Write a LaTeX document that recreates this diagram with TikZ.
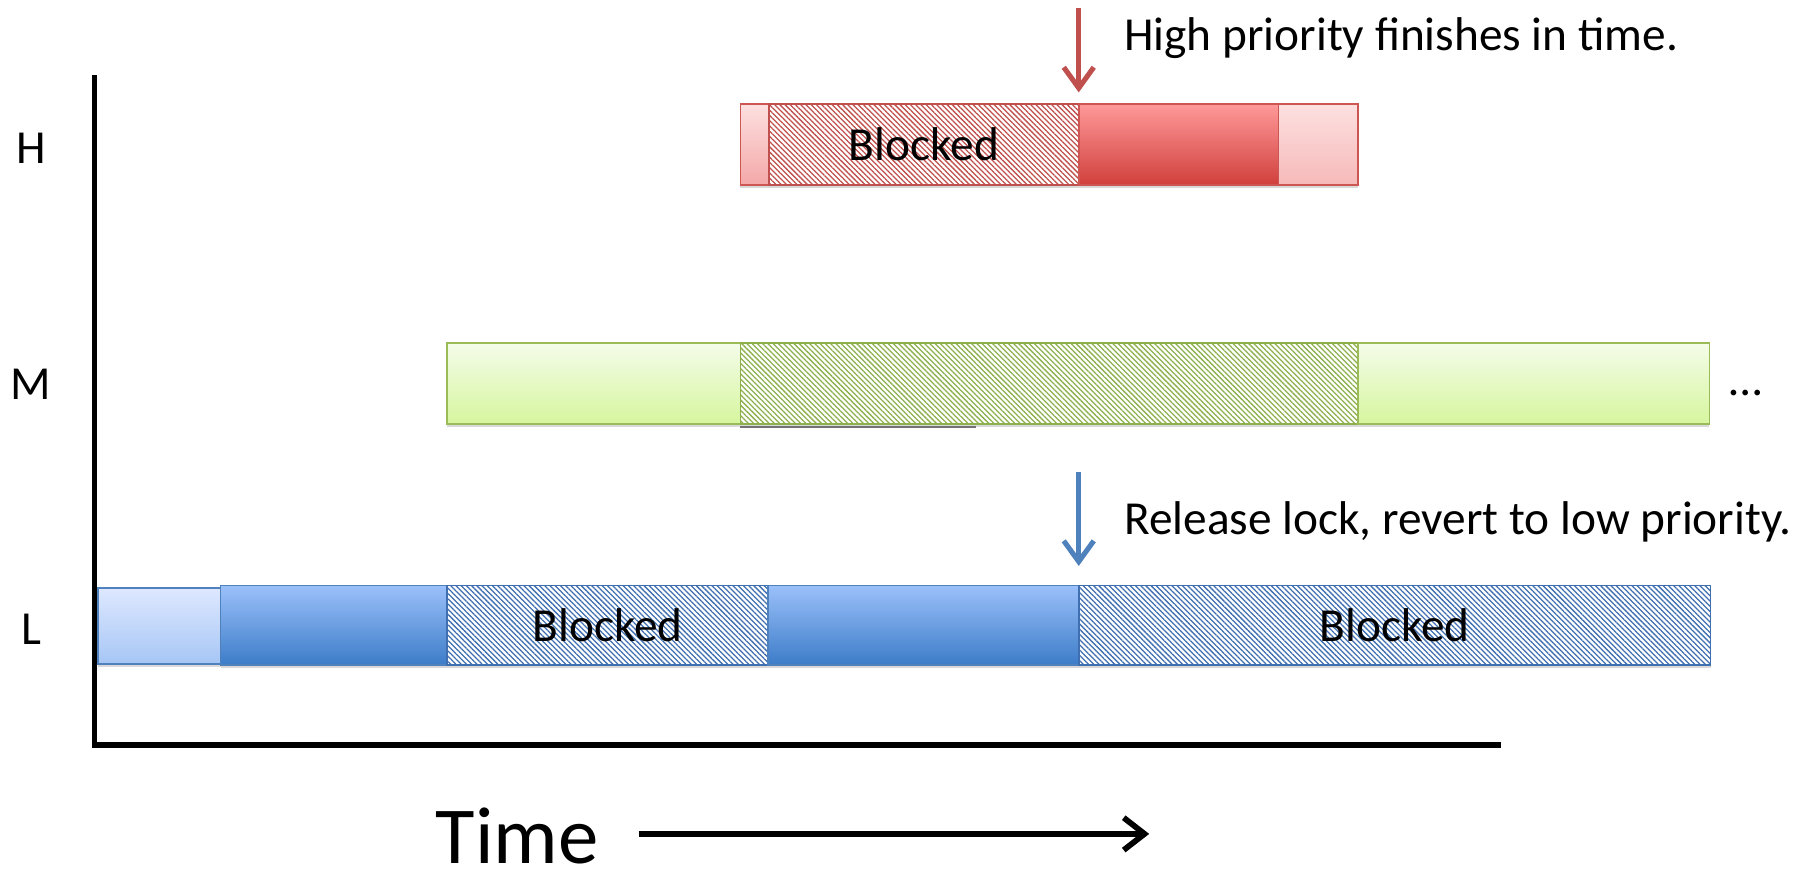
\documentclass[tikz,border=0pt]{standalone}
\usepackage{fontspec}
\setmainfont{Carlito}
\usetikzlibrary{patterns.meta,fit,shadows,arrows.meta}
\definecolor{redB}{RGB}{205,85,82}
\definecolor{redH}{RGB}{192,80,77}
\definecolor{pinkT}{RGB}{253,224,224}
\definecolor{pinkB}{RGB}{244,168,168}
\definecolor{redT}{RGB}{255,153,153}
\definecolor{redD}{RGB}{208,64,60}
\definecolor{greenB}{RGB}{155,187,89}
\definecolor{greenH}{RGB}{141,176,77}
\definecolor{greenT}{RGB}{244,252,233}
\definecolor{greenD}{RGB}{214,246,158}
\definecolor{blueB}{RGB}{79,129,189}
\definecolor{blueH}{RGB}{63,111,176}
\definecolor{lblueT}{RGB}{222,232,255}
\definecolor{lblueB}{RGB}{166,198,245}
\definecolor{blueT}{RGB}{155,192,250}
\definecolor{blueD}{RGB}{60,124,200}
\begin{document}
\begin{tikzpicture}[x=0.5pt,y=-0.5pt,
  seg/.style={inner sep=0pt, outer sep=0pt, line width=0.7pt,
    drop shadow={shadow xshift=0pt,shadow yshift=-1.3pt,opacity=0.3}},
  hatch/.style={seg, draw=#1, fill=white,
    postaction={pattern={Lines[angle=-45,distance=1.6pt,line width=0.55pt]}, pattern color=#1}},
  txt/.style={font=\fontsize{20.5}{24}\selectfont, inner sep=0pt},
  pointer/.style={line width=2.2pt, -{Straight Barb[length=9pt,width=13pt,line width=2.2pt]}},
  axis/.style={line width=2.4pt}
]
\useasboundingbox (0,0) rectangle (1568,755);

% H row
\node[seg, draw=redB, top color=pinkT, bottom color=pinkB, fit={(641,90)(666,160)}] (h1) {};
\node[hatch=redH, fit={(666,90)(934,160)}, label={[txt]center:Blocked}] (h2) {};
\node[seg, draw=redB, top color=redT, bottom color=redD, fit={(934,90)(1107,160)}] (h3) {};
\node[seg, draw=redB, top color=pinkT, bottom color=pinkB!80!white, fit={(1107,90)(1176,160)}] (h4) {};

% M row
\node[seg, draw=greenB, top color=greenT, bottom color=greenD, fit={(387,297)(641,367)}] (m1) {};
\node[hatch=greenH, fit={(641,297)(1176,367)}] (m2) {};
\node[seg, draw=greenB, top color=greenT, bottom color=greenD, fit={(1176,297)(1480,367)}] (m3) {};
\draw[black!55, line width=1pt] (641,369.5) -- (845,369.5);

% L row
\node[seg, draw=blueB, top color=lblueT, bottom color=lblueB, fit={(85,509)(191,575)}] (l1) {};
\node[seg, draw=blueB, top color=blueT, bottom color=blueD, fit={(191,507)(387,576)}] (l2) {};
\node[hatch=blueH, fit={(387,507)(665,576)}, label={[txt]center:Blocked}] (l3) {};
\node[seg, draw=blueB, top color=blueT, bottom color=blueD, fit={(665,507)(934,576)}] (l4) {};
\node[hatch=blueH, fit={(934,507)(1481,576)}, label={[txt]center:Blocked}] (l5) {};

% axes
\coordinate (ytop) at (82,65);
\coordinate (xend) at (1300,645);
\draw[axis] (ytop) |- (xend);

% row labels
\node[txt] (H) at (27,128) {H};
\node[txt] (M) at (27,333) {M};
\node[txt] (L) at (27,545) {L};
\node[txt] (dots) at (1512,340) {…};

% notes and pointers
\node[txt, anchor=west] (hn) at (973,33) {High priority finishes in time.};
\node[txt, anchor=west] (ln) at (973,452) {Release lock, revert to low priority.};
\coordinate (ha) at (934,7);
\coordinate (la) at (934,409);
\draw[pointer, draw=redH, shorten >=5pt] (ha) -- (h3.north west);
\draw[pointer, draw=blueB, shorten >=8.5pt] (la) -- (l5.north west);

% time
\node[font=\fontsize{35}{40}\selectfont, inner sep=0pt, anchor=base west] (T) at (377,748) {Time};
\coordinate (ts) at (553,722);
\coordinate (te) at (995,722);
\draw[line width=2.5pt, -{Straight Barb[length=9pt,width=14pt,line width=2.5pt]}] (ts) -- (te);
\end{tikzpicture}
\end{document}
